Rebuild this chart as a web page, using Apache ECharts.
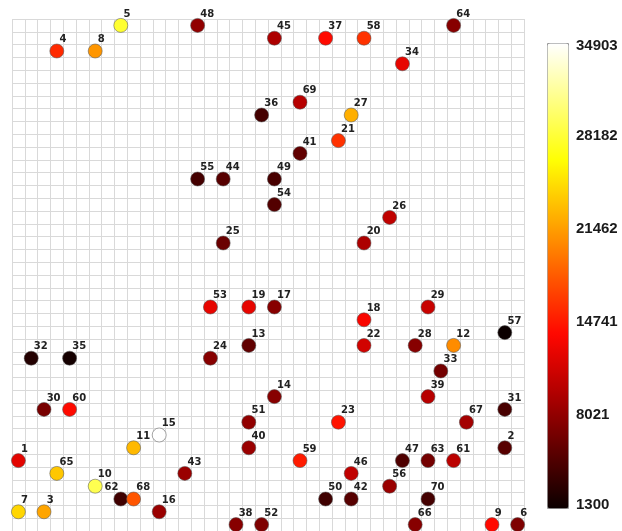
<!DOCTYPE html>
<html>
<head>
<meta charset="utf-8">
<script src="https://cdn.jsdelivr.net/npm/echarts@6/dist/echarts.min.js"></script>
<style>
  html, body { margin: 0; padding: 0; background: #ffffff; }
  #chart { width: 622px; height: 531px; }
</style>
</head>
<body>
<div id="chart"></div>
<script>
// Station ids with their grid cell (column, row) and measured value
const ids    = [1, 2, 3, 4, 5, 6, 7, 8, 9, 10, 11, 12, 13, 14, 15, 16, 17, 18, 19, 20,
                21, 22, 23, 24, 25, 26, 27, 28, 29, 30, 31, 32, 33, 34, 35, 36, 37, 38, 39, 40,
                41, 42, 43, 44, 45, 46, 47, 48, 49, 50, 51, 52, 53, 54, 55, 56, 57, 58, 59, 60,
                61, 62, 63, 64, 65, 66, 67, 68, 69, 70];
const cols   = [0, 38, 2, 3, 8, 39, 0, 6, 37, 6, 9, 34, 18, 20, 11, 11, 20, 27, 18, 27,
                25, 27, 25, 15, 16, 29, 26, 31, 32, 2, 38, 1, 33, 30, 4, 19, 24, 17, 32, 18,
                22, 26, 13, 16, 20, 26, 30, 14, 20, 24, 18, 19, 15, 20, 14, 29, 38, 27, 22, 4,
                34, 8, 32, 34, 3, 31, 35, 9, 22, 32];
const rows   = [34, 33, 38, 2, 0, 39, 38, 2, 39, 36, 33, 25, 25, 29, 32, 38, 22, 23, 22, 17,
                9, 25, 31, 26, 17, 15, 7, 25, 22, 30, 30, 26, 27, 3, 26, 7, 1, 39, 29, 33,
                10, 37, 35, 12, 1, 35, 34, 0, 12, 37, 31, 39, 22, 14, 12, 36, 24, 1, 34, 30,
                34, 37, 34, 0, 35, 39, 31, 37, 6, 37];
const values = [12370, 5150, 21860, 15600, 28000, 7100, 24380, 21100, 14000, 29030,
                22850, 20590, 5630, 7560, 34903, 8500, 7560, 13570, 12600, 9470,
                16070, 11400, 14500, 7560, 6110, 10440, 22340, 7560, 10910, 6800,
                4400, 2500, 6600, 12600, 1800, 4190, 14050, 7560, 9960, 8500,
                5630, 5150, 8500, 5150, 9470, 10440, 4700, 8030, 4400, 3950,
                8030, 7100, 12600, 4950, 4190, 8500, 1300, 16070, 14900, 14050,
                10200, 3950, 6600, 7560, 23620, 7560, 9000, 17840, 9960, 4190];

// Colour scale range and the labels printed beside the colour bar
const valueMin = 1300;
const valueMax = 34903;
const scaleLabels = ['1300', '8021', '14741', '21462', '28182', '34903'];

// Ids whose label sits on the left so it does not run into a neighbour
const leftLabelIds = [62];

// 40 x 40 cell board
const cellCount = 40;
const cellNames = [];
for (let i = 0; i < cellCount; i++) cellNames.push(String(i));

const labelLeft = { position: [5, -4], align: 'right' };
const points = ids.map((id, i) => {
  const item = { value: [cols[i], rows[i], values[i], id] };
  if (leftLabelIds.indexOf(id) >= 0) item.label = labelLeft;
  return item;
});

// "hot" colour ramp: black -> red -> yellow -> white
const hotRamp = ['#0b0000', '#5e0000', '#b20000', '#ff0700', '#ff5a00',
                 '#ffae00', '#ffff04', '#ffff82', '#ffffff'];

const chart = echarts.init(document.getElementById('chart'), null, { renderer: 'canvas' });

const gridLine = { show: true, interval: 0, lineStyle: { color: '#d9d9d9', width: 1 } };

chart.setOption({
  animation: false,
  backgroundColor: '#ffffff',
  grid: [
    { left: 12, top: 19, width: 512, height: 512 },
    { left: 547, top: 43, width: 21, height: 465 }
  ],
  xAxis: [
    {
      gridIndex: 0, type: 'category', data: cellNames, boundaryGap: true,
      axisLine: { show: false }, axisTick: { show: false }, axisLabel: { show: false },
      splitLine: gridLine
    },
    {
      gridIndex: 1, type: 'value', min: 0, max: 1,
      axisLine: { show: false }, axisTick: { show: false }, axisLabel: { show: false },
      splitLine: { show: false }
    }
  ],
  yAxis: [
    {
      gridIndex: 0, type: 'category', data: cellNames, boundaryGap: true, inverse: true,
      axisLine: { show: false }, axisTick: { show: false }, axisLabel: { show: false },
      splitLine: gridLine
    },
    {
      gridIndex: 1, type: 'value', position: 'right', min: 0, max: scaleLabels.length - 1, interval: 1,
      z: 10,
      axisLine: { show: false },
      axisTick: { show: false },
      splitLine: { show: false },
      axisLabel: {
        margin: 8,
        color: '#1a1a1a',
        fontFamily: 'Liberation Sans',
        fontWeight: 'bold',
        fontSize: 15,
        formatter: (v) => {
          const i = Math.round(v);
          if (i === 0) return '{low|' + scaleLabels[i] + '}';
          if (i === scaleLabels.length - 1) return '{high|' + scaleLabels[i] + '}';
          return scaleLabels[i];
        },
        rich: {
          low: { padding: [0, 0, 6, 0], fontFamily: 'Liberation Sans', fontWeight: 'bold', fontSize: 15, color: '#1a1a1a' },
          high: { padding: [6, 0, 0, 0], fontFamily: 'Liberation Sans', fontWeight: 'bold', fontSize: 15, color: '#1a1a1a' }
        }
      }
    }
  ],
  visualMap: {
    type: 'continuous',
    min: valueMin,
    max: valueMax,
    dimension: 2,
    seriesIndex: 0,
    calculable: false,
    hoverLink: false,
    orient: 'vertical',
    left: 547,
    top: 43,
    padding: 0,
    itemWidth: 21,
    itemHeight: 465,
    borderColor: '#9a9a9a',
    borderWidth: 1,
    text: null,
    inRange: { color: hotRamp }
  },
  series: [
    {
      type: 'scatter',
      xAxisIndex: 0,
      yAxisIndex: 0,
      data: points,
      encode: { x: 0, y: 1 },
      symbol: 'circle',
      symbolSize: 14,
      itemStyle: { borderColor: 'rgba(80,80,80,0.75)', borderWidth: 0.7, opacity: 1 },
      label: {
        show: true,
        position: [10, -4],
        align: 'left',
        verticalAlign: 'middle',
        color: '#222222',
        fontFamily: 'DejaVu Sans',
        fontWeight: 'bold',
        fontSize: 10,
        formatter: (p) => String(p.value[3])
      },
      emphasis: { disabled: true }
    }
  ]
});
</script>
</body>
</html>
